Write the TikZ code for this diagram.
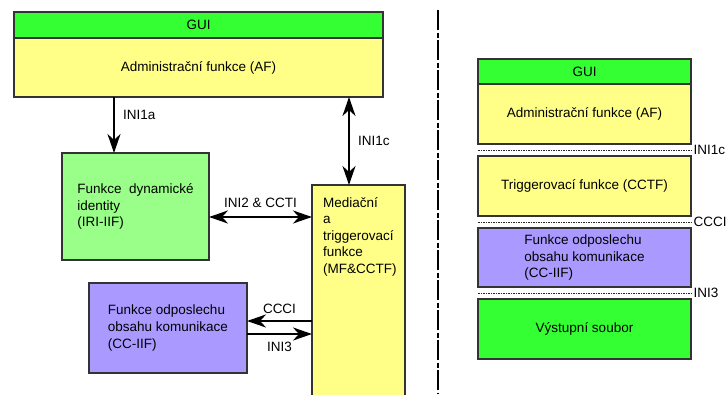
\documentclass[tikz,border=0pt]{standalone}
\usepackage{fontspec}
\setmainfont{Liberation Sans}
\usepackage{tikz}
\usetikzlibrary{arrows.meta,positioning,calc}
\definecolor{guiGreen}{HTML}{33FF33}
\definecolor{funcYellow}{HTML}{FFFF88}
\definecolor{iriGreen}{HTML}{99FF88}
\definecolor{ccViolet}{HTML}{AA99FF}
\definecolor{boxLine}{HTML}{333333}

\begin{document}
\begin{tikzpicture}[
      x=1pt, y=-1pt,
      font=\fontsize{13.5pt}{16.5pt}\selectfont,
      funcbox/.style={
        rectangle, draw=boxLine, line width=1.3pt, inner sep=0pt, outer sep=0pt, align=center
      },
      leftbox/.style={funcbox, align=left},
      ifarrow/.style={-{Stealth[length=19pt,width=13pt,inset=6pt]}, line width=2.4pt},
      ifboth/.style={{Stealth[length=19pt,width=13pt,inset=6pt]}-{Stealth[length=19pt,width=13pt,inset=6pt]}, line width=2.4pt},
      iflabel/.style={inner sep=2pt},
      sepline/.style={line width=1pt, dash pattern=on 1.5pt off 1pt, draw=black!85},
      divider/.style={line width=2pt, dash pattern=on 20pt off 2.5pt on 5pt off 2.5pt}
    ]
      \useasboundingbox (0,0) rectangle (728,394);

      % left: architecture
      \node[funcbox, fill=guiGreen, minimum width=369pt, minimum height=26pt] (gui) at (198.5,25) {GUI};
      \node[funcbox, fill=funcYellow, minimum width=369pt, minimum height=59pt, below=0pt of gui] (af) {Administrační funkce (AF)};
      \node[leftbox, fill=iriGreen, minimum width=147pt, minimum height=107pt] (iri) at (135.5,206.5) {Funkce\ \ dynamické\\identity\\(IRI-IIF)};
      \node[leftbox, fill=ccViolet, minimum width=158pt, minimum height=90pt] (cc) at (168,328) {Funkce odposlechu\\obsahu komunikace\\(CC-IIF)};
      \node[funcbox, fill=funcYellow, minimum width=93pt, minimum height=215pt, anchor=north west] (med) at (312,185) {};
      \node[align=left, inner sep=0pt, anchor=north west] (medtext) at (323,197) {Mediační\\a\\triggerovací\\funkce\\(MF\&CCTF)};

      \coordinate (a1) at ([xshift=52pt]iri.north west);
      \coordinate (a2) at ([xshift=37pt]med.north west);
      \coordinate (a3) at ([yshift=-10.5pt]iri.east);
      \coordinate (a4) at ([yshift=7pt]cc.east);
      \coordinate (a5) at ([yshift=-6pt]cc.east);

      \draw[ifarrow] (a1 |- af.south) -- (a1) node[iflabel, pos=0.32, right=6pt] {INI1a};
      \draw[ifboth] (a2 |- af.south) -- (a2) node[iflabel, midway, right=6pt] {INI1c};
      \draw[ifboth] (a3) -- (a3 -| med.west) node[iflabel, midway, above=6pt] {INI2 \& CCTI};
      \draw[ifarrow] (a4 -| med.west) -- (a4) node[iflabel, midway, above=4pt] {CCCI};
      \draw[ifarrow] (a5) -- (a5 -| med.west) node[iflabel, midway, below=5pt] {INI3};

      \draw[divider] (438,10) -- (438,394);

      % right: layers
      \node[funcbox, fill=guiGreen, minimum width=213pt, minimum height=25pt] (rgui) at (584.5,71.5) {GUI};
      \node[funcbox, fill=funcYellow, minimum width=213pt, minimum height=60pt, below=0pt of rgui] (raf) {Administrační funkce (AF)};
      \node[funcbox, fill=funcYellow, minimum width=213pt, minimum height=60pt, below=12pt of raf] (rtrig) {Triggerovací funkce (CCTF)};
      \node[leftbox, fill=ccViolet, minimum width=213pt, minimum height=59pt, below=12pt of rtrig] (rcc) {Funkce odposlechu\\obsahu komunikace\\(CC-IIF)};
      \node[funcbox, fill=guiGreen, minimum width=213pt, minimum height=60pt, below=12pt of rcc] (rout) {Výstupní soubor};

      \draw[sepline] ($(raf.south west)!.5!(rtrig.north west)$) -- ($(raf.south east)!.5!(rtrig.north east)$) node[iflabel, right] {INI1c};
      \draw[sepline] ($(rtrig.south west)!.5!(rcc.north west)$) -- ($(rtrig.south east)!.5!(rcc.north east)$) node[iflabel, right] {CCCI};
      \draw[sepline] ($(rcc.south west)!.5!(rout.north west)$) -- ($(rcc.south east)!.5!(rout.north east)$) node[iflabel, right] {INI3};
    \end{tikzpicture}
\end{document}
